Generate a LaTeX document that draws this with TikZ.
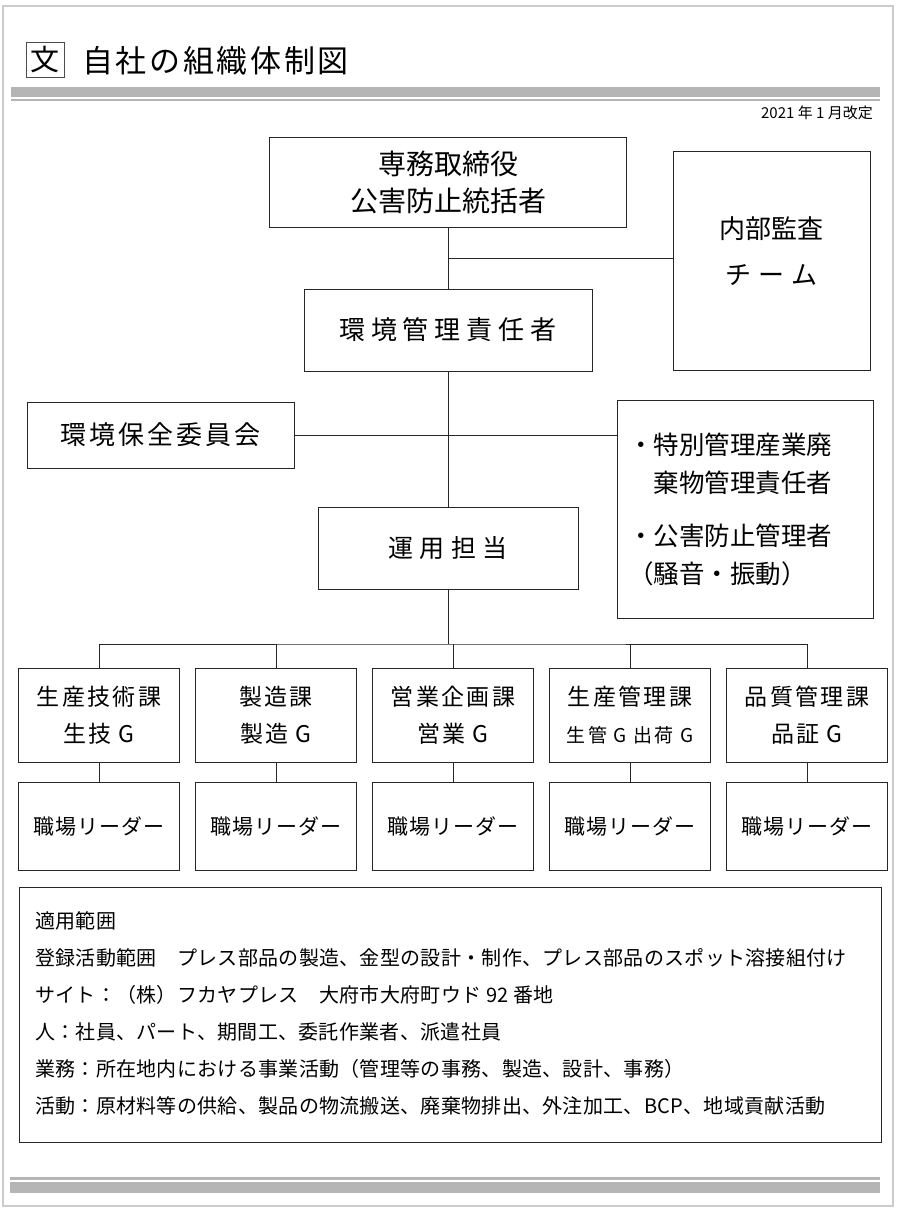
\documentclass[tikz,border=0pt]{standalone}
\usepackage{fontspec}
\setmainfont{Noto Sans CJK JP}
\usetikzlibrary{positioning}

\newcommand{\fsz}[2]{\fontsize{#1}{#2}\selectfont}

\begin{document}
\begin{tikzpicture}[x=1pt, y=-1pt,
    every node/.style={inner sep=0pt},
    org box/.style={draw=black!85, line width=0.9pt, outer sep=0pt, align=center},
    link/.style={draw=black!85, line width=0.9pt},
    band/.style={fill=black!29},
    section/.style={org box, minimum width=161pt, minimum height=94pt,
      font=\fsz{23}{37}\addfontfeatures{LetterSpace=10}},
    leader/.style={org box, minimum width=161pt, minimum height=88pt,
      font=\fsz{21}{21}\addfontfeatures{LetterSpace=5}},
    scope line/.style={anchor=west,
      font=\fsz{20}{20}\addfontfeatures{LetterSpace=1.5}}]
  \useasboundingbox (0,0) rectangle (900,1208);

  % page frame and bands
  \draw[black!20, line width=1.5pt] (3,6) rectangle (893,1206);
  \fill[band] (11,87) rectangle (880,97);
  \fill[band] (11,99) rectangle (880,101);
  \fill[band] (10,1177) rectangle (880,1180);
  \fill[band] (10,1182) rectangle (880,1193);

  % heading
  \node[draw=black!70, line width=0.8pt, minimum width=38pt, minimum height=35pt,
        font=\fsz{29}{29}] (mark) at (45,59.5) {文};
  \node[anchor=west, font=\fsz{31}{31}\addfontfeatures{LetterSpace=8.5}]
        (title) at (82,61) {自社の組織体制図};
  \node[anchor=east, font=\fsz{15}{15}] (date) at (873,113) {2021 年 1 月改定};

  % upper part of the chart
  \node[org box, minimum width=357pt, minimum height=90pt, font=\fsz{28}{37}]
        (exec) at (448,182) {専務取締役\\公害防止統括者};
  \node[org box, minimum width=197pt, minimum height=219pt, font=\fsz{26}{46},
        text depth=20pt]
        (audit) at (771.5,260.5) {内部監査\\{\addfontfeatures{LetterSpace=27}チーム}};
  \node[org box, minimum width=288pt, minimum height=82pt,
        font=\fsz{26}{26}\addfontfeatures{LetterSpace=23}]
        (envmgr) at (448,330) {環境管理責任者};
  \node[org box, minimum width=267pt, minimum height=66pt,
        font=\fsz{26}{26}\addfontfeatures{LetterSpace=11.5}]
        (committee) at (160.5,435) {環境保全委員会};
  \node[org box, minimum width=256pt, minimum height=218pt, text width=234pt,
        align=left, font=\fsz{25.5}{38}]
        (duties) at (745,509)
        {・特別管理産業廃\\\hspace*{1em}棄物管理責任者\\[15pt]・公害防止管理者\\（騒音・振動）};
  \node[org box, minimum width=260pt, minimum height=82pt,
        font=\fsz{25}{25}\addfontfeatures{LetterSpace=26}]
        (oper) at (448,548) {運用担当};

  % sections and leaders
  \node[section] (sec1) at (99,715) {生産技術課\\生技 G};
  \node[section, right=16pt of sec1] (sec2) {製造課\\製造 G};
  \node[section, right=16pt of sec2] (sec3) {営業企画課\\営業 G};
  \node[section, right=16pt of sec3] (sec4)
        {生産管理課\\{\fsz{19}{37}\addfontfeatures{LetterSpace=12}生管 G 出荷 G}};
  \node[section, right=16pt of sec4] (sec5) {品質管理課\\品証 G};

  \foreach \i in {1,...,5} {
    \node[leader, below=20pt of sec\i] (lead\i) {職場リーダー};
    \draw[link] (sec\i) -- (lead\i);
  }

  % connectors
  \coordinate (audit fork) at (448,258);
  \coordinate (bus) at (448,644);
  \draw[link] (exec) -- (envmgr);
  \draw[link] (audit fork) -- (audit fork -| audit.west);
  \draw[link] (envmgr) -- (oper);
  \draw[link] (committee.east) -- (committee.east -| duties.west);
  \draw[link] (oper) -- (bus);
  \draw[link] (sec1.north) |- (bus) -| (sec5.north);
  \foreach \i in {2,3,4}
    \draw[link] (sec\i.north) -- (sec\i.north |- bus);

  % scope of registration
  \node[draw=black!85, line width=0.9pt, minimum width=862pt, minimum height=255pt]
        (scope) at (450,1014.5) {};
  \foreach \t [count=\i] in {適用範囲,
      登録活動範囲　プレス部品の製造、金型の設計・制作、プレス部品のスポット溶接組付け,
      サイト：（株）フカヤプレス　大府市大府町ウド 92 番地,
      人：社員、パート、期間工、委託作業者、派遣社員,
      業務：所在地内における事業活動（管理等の事務、製造、設計、事務）,
      活動：原材料等の供給、製品の物流搬送、廃棄物排出、外注加工、BCP、地域貢献活動}
    \node[scope line] (info\i) at (35,{884+37*\i}) {\t};
\end{tikzpicture}
\end{document}
